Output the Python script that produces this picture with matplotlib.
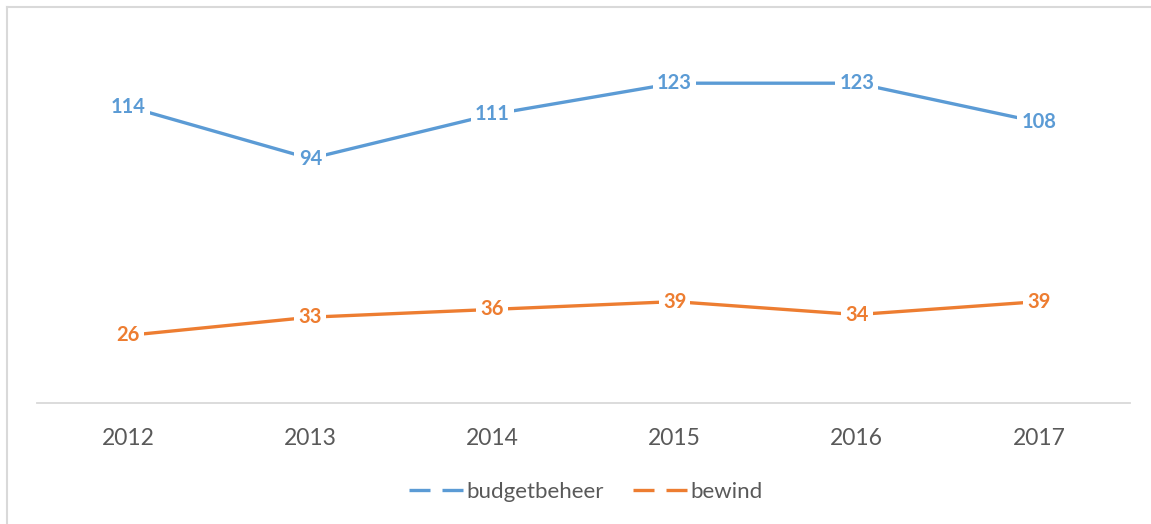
import matplotlib.pyplot as plt
from matplotlib.legend_handler import HandlerTuple
from matplotlib.lines import Line2D

years = ["2012", "2013", "2014", "2015", "2016", "2017"]
budgetbeheer = [114, 94, 111, 123, 123, 108]
bewind = [26, 33, 36, 39, 34, 39]

blue = "#5b9bd5"
orange = "#ed7d31"
grey = "#595959"

plt.rcParams["font.family"] = ["Lato", "DejaVu Sans"]

fig = plt.figure(figsize=(11.51, 5.24), dpi=100)
ax = fig.add_axes([37 / 1151, (524 - 403) / 524, (1130 - 37) / 1151, (403 - 39) / 524])

x = list(range(len(years)))
for values, color in [(budgetbeheer, blue), (bewind, orange)]:
    ax.plot(x, values, color=color, linewidth=2.4, solid_capstyle="butt", zorder=2)
    for xi, v in zip(x, values):
        ax.text(xi, v, str(v), ha="center", va="center", fontsize=14.5, fontweight="bold",
                color=color, zorder=3,
                bbox=dict(facecolor="white", edgecolor="none", pad=3))

ax.set_xlim(-0.5, len(years) - 0.5)
ax.set_ylim(0, 140)
ax.set_xticks(x)
ax.set_xticklabels(years, fontsize=16.5, color=grey)
ax.tick_params(axis="x", length=0, pad=18)
ax.set_yticks([])
for side in ["top", "right", "left"]:
    ax.spines[side].set_visible(False)
ax.spines["bottom"].set_color("#d9d9d9")
ax.spines["bottom"].set_linewidth(1.3)

# legend key: two short solid segments with a gap, like the Excel line key
handles = [
    tuple(Line2D([], [], color=c, linewidth=2.4, solid_capstyle="butt") for _ in range(2))
    for c in (blue, orange)
]
fig.legend(handles, ["budgetbeheer", "bewind"], loc="center", bbox_to_anchor=(0.509, 1 - 492 / 524),
           ncol=2, frameon=False, fontsize=16, labelcolor=grey, handlelength=2.43,
           handletextpad=0.15, columnspacing=1.3,
           handler_map={tuple: HandlerTuple(ndivide=2, pad=0.55)})

# light frame on top and left edges
fig.add_artist(Line2D([6.5 / 1151, 6.5 / 1151], [0, 1 - 7 / 524], color="#d9d9d9", linewidth=1.5,
                      transform=fig.transFigure))
fig.add_artist(Line2D([6.5 / 1151, 1], [1 - 7 / 524, 1 - 7 / 524], color="#d9d9d9", linewidth=1.5,
                      transform=fig.transFigure))

fig.savefig("out.png", dpi=100)
